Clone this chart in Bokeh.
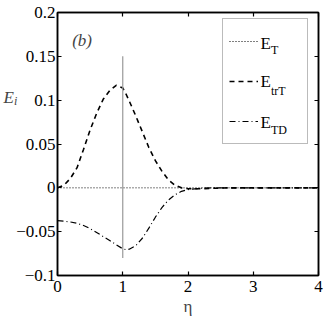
from bokeh.plotting import figure
from bokeh.models import (ColumnDataSource, Legend, LegendItem, Label, LinearAxis,
                          FixedTicker, Range1d)
from bokeh.embed import file_html
from bokeh.resources import INLINE

# ---- data ----
eta = [0.0, 0.1, 0.2, 0.3, 0.4, 0.5, 0.6, 0.7, 0.8, 0.9, 1.0, 1.05, 1.1, 1.2, 1.3,
       1.4, 1.5, 1.6, 1.7, 1.8, 1.9, 2.0, 2.2, 2.4, 2.6, 3.0, 3.5, 4.0]
E_T = [0.0] * len(eta)
E_trT = [0.0, 0.003, 0.011, 0.023, 0.044, 0.066, 0.085, 0.101, 0.111, 0.117, 0.114,
         0.107, 0.099, 0.082, 0.064, 0.046, 0.031, 0.019, 0.009, 0.003, 0.000,
         -0.001, -0.001, -0.0005, 0.0, 0.0, 0.0, 0.0]
E_TD = [-0.0375, -0.0380, -0.0390, -0.0405, -0.0430, -0.0465, -0.0510, -0.0555,
        -0.0600, -0.0650, -0.0695, -0.0705, -0.0700, -0.0660, -0.0575, -0.0460,
        -0.0335, -0.0225, -0.0140, -0.0080, -0.0040, -0.0020, -0.0005, 0.0, 0.0,
        0.0, 0.0, 0.0]

marker_eta = [1.0]
marker_lo = [-0.08]
marker_hi = [0.15]

x_ticks = [0, 1, 2, 3, 4]
y_ticks = [-0.1, -0.05, 0, 0.05, 0.1, 0.15, 0.2]
y_tick_labels = ["\u22120.1", "\u22120.05", "0", "0.05", "0.1", "0.15", "0.2"]

series_names = ["T", "trT", "TD"]

FONT = "Liberation Serif"

src = ColumnDataSource(dict(eta=eta, E_T=E_T, E_trT=E_trT, E_TD=E_TD))

p = figure(width=324, height=316, x_range=Range1d(0, 4), y_range=Range1d(-0.1, 0.2),
           output_backend="svg", toolbar_location=None,
           min_border_left=57, min_border_right=6, min_border_top=12, min_border_bottom=41)
p.grid.visible = False
p.outline_line_color = "black"
p.outline_line_width = 1.5
p.background_fill_color = "white"
p.border_fill_color = "white"

r1 = p.line("eta", "E_T", source=src, line_color="black", line_width=1, line_dash="1 2")
r2 = p.line("eta", "E_trT", source=src, line_color="black", line_width=1.6, line_dash="5 4")
r3 = p.line("eta", "E_TD", source=src, line_color="black", line_width=1.2, line_dash="6 3 1 3")
p.segment(x0=marker_eta, y0=marker_lo, x1=marker_eta, y1=marker_hi,
          line_color="#999999", line_width=1.2)


def style_axis(ax, ticks, labels):
    ax.axis_line_color = "black"
    ax.axis_line_width = 1.5
    ax.major_tick_in = 4
    ax.major_tick_out = 0
    ax.minor_tick_line_color = None
    ax.major_tick_line_color = "black"
    ax.major_tick_line_width = 1.2
    ax.ticker = FixedTicker(ticks=ticks)
    ax.major_label_overrides = {t: l for t, l in zip(ticks, labels)}
    ax.major_label_text_font = FONT
    ax.major_label_text_font_size = "17px"
    ax.major_label_text_color = "black"


x_tick_labels = [str(t) for t in x_ticks]
style_axis(p.xaxis[0], x_ticks, x_tick_labels)
style_axis(p.yaxis[0], y_ticks, y_tick_labels)
p.xaxis.major_label_standoff = 5
p.yaxis.major_label_standoff = 2

top_ax = LinearAxis()
right_ax = LinearAxis()
style_axis(top_ax, x_ticks, [""] * len(x_ticks))
style_axis(right_ax, y_ticks, [""] * len(y_ticks))
top_ax.major_label_standoff = 0
right_ax.major_label_standoff = 0
p.add_layout(top_ax, "above")
p.add_layout(right_ax, "right")

legend = Legend(items=[LegendItem(label=" ", renderers=[r]) for r in (r1, r2, r3)],
                location=(165, 131), padding=6, margin=0, spacing=8,
                glyph_width=29, glyph_height=32, label_height=32, label_width=40,
                label_standoff=3, label_text_font_size="10px",
                border_line_color="#777777", border_line_width=1,
                background_fill_alpha=0.0)
p.add_layout(legend, "center")

# legend texts (E with subscript)
row_base = [0.1650, 0.1216, 0.0749]
row_sub = [0.1567, 0.1110, 0.0654]
for name, yb, ys in zip(series_names, row_base, row_sub):
    p.add_layout(Label(x=3.111, y=yb, text="E", text_font=FONT, text_font_size="17px",
                       text_baseline="alphabetic", text_align="left", text_color="black"))
    p.add_layout(Label(x=3.272, y=ys, text=name, text_font=FONT, text_font_size="12px",
                       text_baseline="alphabetic", text_align="left", text_color="black"))

# y-axis label E_i (placed in the left side panel so it is not clipped)
p.add_layout(Label(x=-0.828, y=0.103, text="E", text_font=FONT, text_font_size="17px",
                   text_font_style="italic", text_baseline="alphabetic", text_align="left"),
             "left")
p.add_layout(Label(x=-0.667, y=0.0985, text="i", text_font=FONT, text_font_size="12px",
                   text_font_style="italic", text_baseline="alphabetic", text_align="left"),
             "left")

# x-axis label
p.add_layout(Label(x=2.0, y=-0.1354, text="\u03b7", text_font=FONT, text_font_size="17px",
                   text_baseline="alphabetic", text_align="center"), "below")

# panel tag
p.add_layout(Label(x=0.225, y=0.168, text="(b)", text_font=FONT, text_font_size="17px",
                   text_font_style="italic", text_baseline="alphabetic", text_align="left"))

open("out.html", "w").write(file_html(p, INLINE))
